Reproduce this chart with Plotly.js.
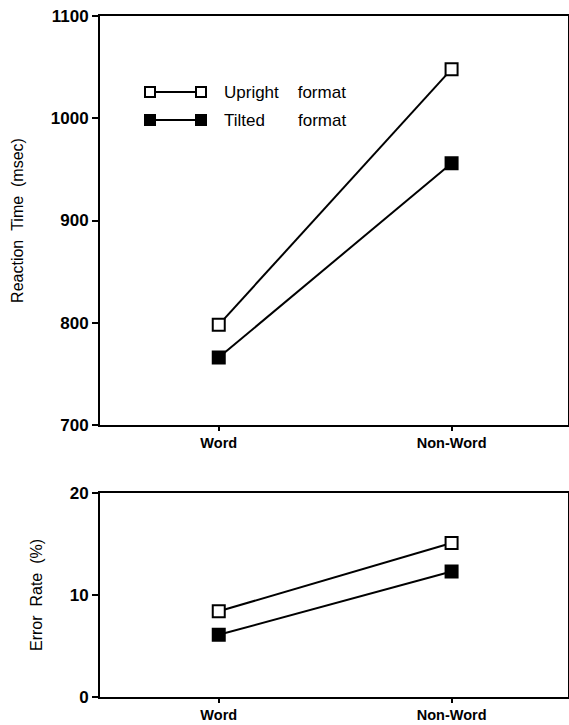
<!DOCTYPE html>
<html>
<head>
<meta charset="utf-8">
<script src="https://cdn.plot.ly/plotly-3.0.1.min.js"></script>
<style>html,body{margin:0;padding:0;background:#fff;}#chart{width:569px;height:725px;}</style>
</head>
<body>
<div id="chart"></div>
<script>
// Data
const categories = ["Word", "Non-Word"];
const seriesNames = ["Upright\u00A0\u00A0\u00A0\u00A0format", "Tilted\u00A0\u00A0\u00A0\u00A0\u00A0\u00A0\u00A0format"];
const rtUpright = [798, 1048];
const rtTilted = [766, 956];
const errUpright = [8.4, 15.1];
const errTilted = [6.1, 12.3];
const rtTicks = [700, 800, 900, 1000, 1100];
const errTicks = [0, 10, 20];
const rtTitle = "Reaction\u00A0\u00A0Time\u00A0\u00A0(msec)";
const errTitle = "Error\u00A0\u00A0Rate\u00A0\u00A0(%)";

const W = 569, H = 725;
const px = v => v / W;
const py = v => 1 - v / H;

const fontFam = '"Liberation Sans", Arial, Helvetica, sans-serif';
const xIdx = categories.map((c, i) => i);

function trace(y, filled, xa, ya, name) {
  return {
    x: xIdx, y: y, xaxis: xa, yaxis: ya, name: name,
    type: 'scatter', mode: 'lines+markers', showlegend: false,
    line: {color: '#000', width: 2},
    marker: {symbol: 'square', size: 12, color: filled ? '#000' : '#fff',
             line: {color: '#000', width: 2}},
    cliponaxis: false
  };
}

const data = [
  trace(rtUpright, false, 'x', 'y', seriesNames[0]),
  trace(rtTilted, true, 'x', 'y', seriesNames[1]),
  trace(errUpright, false, 'x2', 'y2', seriesNames[0]),
  trace(errTilted, true, 'x2', 'y2', seriesNames[1])
];

const xDomain = [px(100), px(568)];
function xAxis(anchor) {
  return {
    domain: xDomain, anchor: anchor, range: [-0.51, 1.5],
    tickmode: 'array', tickvals: xIdx, ticktext: categories,
    ticks: 'outside', ticklen: 4, tickwidth: 2, tickcolor: '#000',
    showline: true, linewidth: 2, linecolor: '#000', mirror: true,
    showgrid: false, zeroline: false,
    tickfont: {family: fontFam, size: 14.5, color: '#000', weight: 'bold'}
  };
}
function yAxis(anchor, domain, range, ticks, title) {
  return {
    domain: domain, anchor: anchor, range: range,
    tickmode: 'array', tickvals: ticks,
    ticks: 'outside', ticklen: 6, tickwidth: 2, tickcolor: '#000',
    showline: true, linewidth: 2, linecolor: '#000', mirror: true,
    showgrid: false, zeroline: false,
    tickfont: {family: fontFam, size: 17, color: '#000', weight: 'bold'},
    title: {text: title, standoff: 23, font: {family: fontFam, size: 16, color: '#000'}}
  };
}

const legendRows = [
  {y: 92, filled: false, label: seriesNames[0]},
  {y: 120, filled: true, label: seriesNames[1]}
];
const shapes = [];
const annotations = [];
legendRows.forEach(r => {
  shapes.push({type: 'line', xref: 'paper', yref: 'paper',
    x0: px(150), x1: px(201), y0: py(r.y), y1: py(r.y),
    line: {color: '#000', width: 2}});
  [150, 201].forEach(cx => {
    shapes.push({type: 'rect', xref: 'paper', yref: 'paper',
      xsizemode: 'pixel', ysizemode: 'pixel', xanchor: px(cx), yanchor: py(r.y),
      x0: -5, x1: 5, y0: -5, y1: 5,
      fillcolor: r.filled ? '#000' : '#fff', line: {color: '#000', width: 2}});
  });
  annotations.push({xref: 'paper', yref: 'paper', x: px(222), y: py(r.y),
    xanchor: 'left', yanchor: 'middle', showarrow: false, text: r.label,
    font: {family: fontFam, size: 17, color: '#000'}});
});

const layout = {
  width: W, height: H,
  margin: {l: 0, r: 0, t: 0, b: 0},
  paper_bgcolor: '#fff', plot_bgcolor: '#fff',
  showlegend: false,
  xaxis: xAxis('y'),
  yaxis: yAxis('x', [py(425), py(16)], [700, 1100], rtTicks, rtTitle),
  xaxis2: xAxis('y2'),
  yaxis2: yAxis('x2', [py(697), py(493)], [0, 20], errTicks, errTitle),
  shapes: shapes,
  annotations: annotations
};

Plotly.newPlot('chart', data, layout, {displayModeBar: false, staticPlot: true});
</script>
</body>
</html>
